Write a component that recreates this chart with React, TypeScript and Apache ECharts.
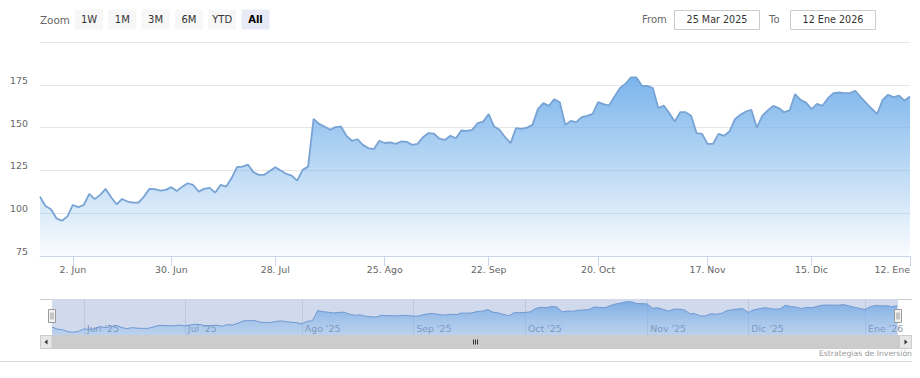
import React, { useEffect, useRef } from 'react';
import * as echarts from 'echarts';

// ---------- data ----------
const FIRST_DAY = '2025-05-22';
const LAST_DAY = '2026-01-12';
const CLOSED_DAYS = ['2025-05-26', '2025-06-19', '2025-06-20', '2025-07-04', '2025-09-01', '2025-11-27', '2025-12-25', '2026-01-01'];
const MONTHS_ES = ['Ene', 'Feb', 'Mar', 'Abr', 'May', 'Jun', 'Jul', 'Ago', 'Sep', 'Oct', 'Nov', 'Dic'];
const TICK_DATES = ['2025-06-02', '2025-06-30', '2025-07-28', '2025-08-25', '2025-09-22', '2025-10-20', '2025-11-17', '2025-12-15', '2026-01-12'];
const PRICES = [
  109.7, 104.2, 102.3, 97, 95.6, 98, 104.8, 103.5, 104.8, 111.3,
  108.2, 110.7, 114.2, 109.3, 105.2, 108.3, 106.8, 106.2, 106.2, 109.7,
  114.2, 114, 113.2, 113.6, 115.2, 113, 115.5, 117.5, 116.5, 112.6,
  114.2, 114.8, 112, 116.5, 115.5, 120.4, 126.9, 127.2, 128.4, 124,
  122.4, 122.4, 124.7, 126.9, 124.9, 123, 122, 119, 125.3, 127.2,
  155.1, 152.2, 150.6, 148.7, 150.3, 150.6, 145.2, 142.3, 143.2, 139.9,
  138, 137.4, 142.3, 141, 141.3, 140.5, 141.9, 141.7, 139.9, 140.5,
  144.4, 146.8, 146.5, 143.5, 142.8, 145.2, 143.8, 148.3, 148.1, 148.7,
  152.6, 153.5, 157.9, 150.6, 148.7, 144.4, 140.9, 149.7, 149.3, 150,
  151.6, 160.8, 164.3, 162.7, 166.6, 164.8, 151.6, 153.9, 153.2, 156.1,
  156.9, 158, 164.9, 163.7, 162.9, 168.2, 173.1, 175.6, 179.3, 179.3,
  174.4, 174.4, 173.1, 161.4, 162.9, 158.5, 153.5, 159, 159, 156.9,
  146.8, 146.3, 140.5, 140.5, 146.3, 145.2, 147.7, 154.9, 157.5, 159.4,
  160.4, 150, 156.9, 160, 162.7, 161.4, 159, 160, 169.6, 166.2,
  164.6, 160.8, 163.9, 162.7, 167.2, 170.1, 170.5, 170.1, 170.1, 171.5,
  167.8, 164.3, 161, 158, 166.2, 169.2, 167.8, 168.7, 165.8, 168.2,
];
const Y_TICKS = [75, 100, 125, 150, 175, 200];
const RANGE_BUTTONS = ['1W', '1M', '3M', '6M', 'YTD', 'All'];
const SELECTED_BUTTON = 'All';
const FROM_TEXT = '25 Mar 2025';
const TO_TEXT = '12 Ene 2026';
const CREDIT = 'Estrategias de Inversión';

function tradingDays(start: string, end: string, closed: string[]): string[] {
  const out: string[] = [];
  const d = new Date(start + 'T00:00:00Z');
  const e = new Date(end + 'T00:00:00Z');
  while (d.getTime() <= e.getTime()) {
    const wd = d.getUTCDay();
    const iso = d.toISOString().slice(0, 10);
    if (wd !== 0 && wd !== 6 && closed.indexOf(iso) < 0) out.push(iso);
    d.setUTCDate(d.getUTCDate() + 1);
  }
  return out;
}

const DATES = tradingDays(FIRST_DAY, LAST_DAY, CLOSED_DAYS);

const FONT = 'DejaVu Sans';

export default function App() {
  const ref = useRef<HTMLDivElement>(null);
  useEffect(() => {
    document.body.style.margin = '0';
    if (!ref.current) return;
    const chart = echarts.init(ref.current, undefined, { renderer: 'svg' });

    const tickSet = new Set(TICK_DATES);
    const isTick = (i: number) => tickSet.has(DATES[i]);
    const isMonthStart = (i: number) => i > 0 && DATES[i].slice(5, 7) !== DATES[i - 1].slice(5, 7);

    const graphic: any[] = [];
    graphic.push({ type: 'text', x: 40, y: 19.5, style: { text: 'Zoom', fill: '#666', fontSize: 10.4, fontFamily: FONT, verticalAlign: 'middle' } });
    RANGE_BUTTONS.forEach((b, k) => {
      const x = 75 + k * 33.3;
      const sel = b === SELECTED_BUTTON;
      graphic.push({ type: 'rect', shape: { x, y: 9.5, width: 28, height: 20 }, style: { fill: sel ? '#e6ebf5' : '#f7f7f7' } });
      graphic.push({ type: 'text', x: x + 14, y: 19.5, style: { text: b, fill: sel ? '#000' : '#333', fontSize: 10, fontWeight: sel ? 'bold' : 'normal', fontFamily: FONT, align: 'center', verticalAlign: 'middle' } });
    });
    graphic.push({ type: 'text', x: 642, y: 19.5, style: { text: 'From', fill: '#666', fontSize: 10, fontFamily: FONT, verticalAlign: 'middle' } });
    graphic.push({ type: 'rect', shape: { x: 674.5, y: 10.5, width: 85, height: 19 }, style: { fill: '#fff', stroke: '#cccccc', lineWidth: 1 } });
    graphic.push({ type: 'text', x: 717, y: 19.5, style: { text: FROM_TEXT, fill: '#333', fontSize: 9.6, fontFamily: FONT, align: 'center', verticalAlign: 'middle' } });
    graphic.push({ type: 'text', x: 769, y: 19.5, style: { text: 'To', fill: '#666', fontSize: 10, fontFamily: FONT, verticalAlign: 'middle' } });
    graphic.push({ type: 'rect', shape: { x: 790.5, y: 10.5, width: 85, height: 19 }, style: { fill: '#fff', stroke: '#cccccc', lineWidth: 1 } });
    graphic.push({ type: 'text', x: 833, y: 19.5, style: { text: TO_TEXT, fill: '#333', fontSize: 9.6, fontFamily: FONT, align: 'center', verticalAlign: 'middle' } });

    // navigator mask & outline
    graphic.push({ type: 'rect', z: 1, silent: true, shape: { x: 52, y: 299, width: 846, height: 36 }, style: { fill: 'rgba(102,133,194,0.3)' } });
    graphic.push({ type: 'line', z: 5, shape: { x1: 40, y1: 299.5, x2: 52, y2: 299.5 }, style: { stroke: '#cccccc', lineWidth: 1 } });
    graphic.push({ type: 'line', z: 5, shape: { x1: 898, y1: 299.5, x2: 912, y2: 299.5 }, style: { stroke: '#cccccc', lineWidth: 1 } });
    [52, 898].forEach((hx) => {
      graphic.push({ type: 'rect', z: 10, shape: { x: hx - 3.5, y: 309.5, width: 7, height: 13 }, style: { fill: '#f2f2f2', stroke: '#999999', lineWidth: 1 } });
      graphic.push({ type: 'line', z: 11, shape: { x1: hx - 1, y1: 312.5, x2: hx - 1, y2: 319.5 }, style: { stroke: '#999999', lineWidth: 1 } });
      graphic.push({ type: 'line', z: 11, shape: { x1: hx + 1, y1: 312.5, x2: hx + 1, y2: 319.5 }, style: { stroke: '#999999', lineWidth: 1 } });
    });
    // scrollbar
    graphic.push({ type: 'rect', shape: { x: 40, y: 335, width: 872, height: 14 }, style: { fill: '#f2f2f2' } });
    graphic.push({ type: 'rect', shape: { x: 52, y: 335, width: 847, height: 14 }, style: { fill: '#cccccc' } });
    graphic.push({ type: 'rect', shape: { x: 40.5, y: 335.5, width: 11.5, height: 13 }, style: { fill: '#e6e6e6', stroke: '#cccccc', lineWidth: 1 } });
    graphic.push({ type: 'polygon', shape: { points: [[47.5, 339.5], [47.5, 344.5], [44.5, 342]] }, style: { fill: '#333' } });
    graphic.push({ type: 'rect', shape: { x: 899.5, y: 335.5, width: 12, height: 13 }, style: { fill: '#e6e6e6', stroke: '#cccccc', lineWidth: 1 } });
    graphic.push({ type: 'polygon', shape: { points: [[904.5, 339.5], [904.5, 344.5], [907.5, 342]] }, style: { fill: '#333' } });
    [473.5, 475.5, 477.5].forEach((rx) => {
      graphic.push({ type: 'line', shape: { x1: rx, y1: 339.5, x2: rx, y2: 344.5 }, style: { stroke: '#333', lineWidth: 1 } });
    });
    graphic.push({ type: 'line', shape: { x1: 0, y1: 361.5, x2: 912, y2: 361.5 }, style: { stroke: '#d6dbe4', lineWidth: 1 } });
    graphic.push({ type: 'text', x: 912, y: 353, style: { text: CREDIT, fill: '#999', fontSize: 7.7, fontFamily: FONT, align: 'right', verticalAlign: 'middle' } });

    const mainFill = new echarts.graphic.LinearGradient(0, 0, 0, 1, [
      { offset: 0, color: 'rgba(124,181,236,1)' },
      { offset: 1, color: 'rgba(124,181,236,0.04)' },
    ]);
    const navFill = new echarts.graphic.LinearGradient(0, 0, 0, 1, [
      { offset: 0, color: 'rgba(100,160,225,0.75)' },
      { offset: 1, color: 'rgba(124,181,236,0.25)' },
    ]);

    chart.setOption({
      animation: false,
      textStyle: { fontFamily: FONT },
      grid: [
        { left: 40, right: 10, top: 42, height: 214 },
        { left: 52, right: 23, top: 299, height: 36 },
      ],
      xAxis: [
        {
          type: 'category', data: DATES, boundaryGap: false,
          axisLine: { lineStyle: { color: '#ccd6eb', width: 1 } },
          axisTick: { show: true, length: 10, interval: (i: number) => isTick(i), lineStyle: { color: '#ccd6eb' } },
          axisLabel: {
            interval: (i: number) => isTick(i),
            formatter: (v: string) => `${+v.slice(8, 10)}. ${MONTHS_ES[+v.slice(5, 7) - 1]}`,
            color: '#666', fontSize: 9.4, fontFamily: FONT, margin: 9, alignMaxLabel: 'right',
          },
          splitLine: { show: false },
        },
        {
          type: 'category', data: DATES, boundaryGap: false, gridIndex: 1,
          axisLine: { show: false }, axisTick: { show: false },
          axisLabel: {
            inside: true, interval: (i: number) => isMonthStart(i),
            formatter: (v: string) => `${MONTHS_ES[+v.slice(5, 7) - 1]} '${v.slice(2, 4)}`,
            align: 'left', padding: [0, 0, 0, 3], color: '#8a93a3', fontSize: 9.4, fontFamily: FONT, margin: 2,
          },
          splitLine: { show: true, interval: (i: number) => isMonthStart(i), lineStyle: { color: '#e2e6ee', width: 1 } },
        },
      ],
      yAxis: [
        {
          type: 'value', min: Y_TICKS[0], max: Y_TICKS[Y_TICKS.length - 1], interval: Y_TICKS[1] - Y_TICKS[0],
          axisLine: { show: false }, axisTick: { show: false },
          axisLabel: {
            formatter: (v: number) => (v === Y_TICKS[Y_TICKS.length - 1] ? '' : String(v)),
            color: '#666', fontSize: 9.4, fontFamily: FONT, verticalAlign: 'bottom', margin: 12,
          },
          splitLine: { lineStyle: { color: '#e6e6e6', width: 1 } },
        },
        { type: 'value', gridIndex: 1, min: 88, max: 187, show: false, splitLine: { show: false } },
      ],
      series: [
        {
          type: 'line', data: PRICES, showSymbol: false, symbol: 'none',
          lineStyle: { color: '#78a3d5', width: 1.8 },
          itemStyle: { color: '#78a3d5' },
          areaStyle: { color: mainFill, opacity: 1 },
          z: 3,
        },
        {
          type: 'line', data: PRICES, xAxisIndex: 1, yAxisIndex: 1, showSymbol: false, symbol: 'none', silent: true,
          lineStyle: { color: '#6f98d0', width: 1 },
          areaStyle: { color: navFill, opacity: 1 },
          z: 3,
        },
      ],
      graphic,
    });
    return () => chart.dispose();
  }, []);
  return <div ref={ref} style={{ width: 920, height: 378 }} />;
}
